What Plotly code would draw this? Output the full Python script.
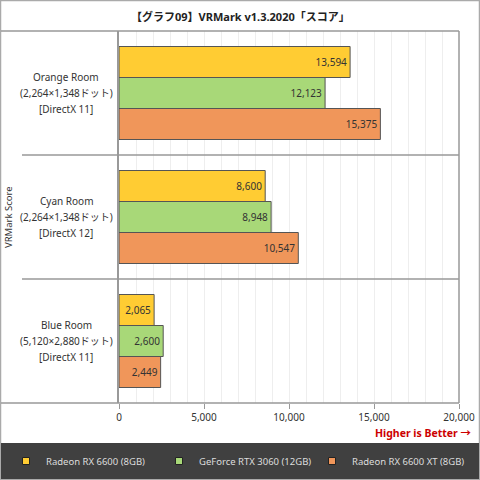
import plotly.graph_objects as go

# scores
rooms = ["Orange Room", "Cyan Room", "Blue Room"]
room_lines = [
    ["Orange Room", "(2,264×1,348ドット)", "[DirectX 11]"],
    ["Cyan Room", "(2,264×1,348ドット)", "[DirectX 12]"],
    ["Blue Room", "(5,120×2,880ドット)", "[DirectX 11]"],
]
cards = ["Radeon RX 6600 (8GB)", "GeForce RTX 3060 (12GB)", "Radeon RX 6600 XT (8GB)"]
rx6600 = [13594, 8600, 2065]
rtx3060 = [12123, 8948, 2600]
rx6600xt = [15375, 10547, 2449]
x_ticks = [0, 5000, 10000, 15000, 20000]

colors = ["#FFCC33", "#A8D878", "#F0965A"]
FONT = "Noto Sans, Noto Sans CJK JP, sans-serif"

W, H = 480, 480
L, R, T, B = 119, 21, 31, 77
pw, ph = W - L - R, H - T - B


def px(x):
    return (x - L) / pw


def py(y):
    return (H - B - y) / ph


fig = go.Figure()
for name, vals, c in zip(cards, [rx6600, rtx3060, rx6600xt], colors):
    fig.add_trace(go.Bar(
        y=rooms, x=vals, name=name, orientation="h",
        marker=dict(color=c, line=dict(color="#555555", width=1)),
        texttemplate="%{x:,}", textposition="inside", insidetextanchor="end",
        textfont=dict(color="#333333", size=10, family=FONT),
        showlegend=False, hoverinfo="x+name",
    ))
    # small square legend markers
    fig.add_trace(go.Scatter(
        x=[None], y=[None], mode="markers", name=name,
        marker=dict(symbol="square", size=7, color=c, line=dict(color="#222222", width=1)),
    ))

shapes = [
    # outer frame
    dict(type="rect", xref="paper", yref="paper", x0=px(0.5), x1=px(479.5), y0=py(479.5), y1=py(0.5),
         line=dict(color="#aaaaaa", width=1.5), layer="below"),
    # dark legend band
    dict(type="rect", xref="paper", yref="paper", x0=px(1), x1=px(479), y0=py(479), y1=py(443),
         fillcolor="#404040", line=dict(width=0), layer="below"),
    # top and bottom lines of the plot frame
    dict(type="line", xref="paper", yref="paper", x0=px(1), x1=1, y0=1, y1=1,
         line=dict(color="#999999", width=1.5)),
    dict(type="line", xref="paper", yref="paper", x0=px(1), x1=1, y0=0, y1=0,
         line=dict(color="#999999", width=1.5)),
    dict(type="line", xref="paper", yref="paper", x0=1, x1=1, y0=0, y1=1,
         line=dict(color="#999999", width=1.5)),
]
for sep in [0.5, 1.5]:
    shapes.append(dict(type="line", xref="paper", yref="y", x0=px(22), x1=1, y0=sep, y1=sep,
                       line=dict(color="#999999", width=1.5)))

annotations = [
    dict(text="<b>【グラフ09】VRMark v1.3.2020「スコア」</b>", xref="paper", yref="paper",
         x=px(240), y=py(16), xanchor="center", yanchor="middle", showarrow=False,
         font=dict(size=11, color="#222222", family=FONT)),
    dict(text="VRMark Score", xref="paper", yref="paper", x=px(8), y=0.5, textangle=-90,
         xanchor="center", yanchor="middle", showarrow=False,
         font=dict(size=9.5, color="#333333", family=FONT)),
    dict(text="<b>Higher is Better →</b>", xref="paper", yref="paper", x=px(474), y=py(433),
         xanchor="right", yanchor="middle", showarrow=False,
         font=dict(size=10.5, color="#CC0000", family=FONT)),
]
# three-line category labels, 16px apart, centred left of the axis
for room, lines in zip(rooms, room_lines):
    for i, line in enumerate(lines):
        annotations.append(dict(text=line, xref="paper", yref="y", x=px(66), y=room,
                                xanchor="center", yanchor="middle",
                                yshift=16 * (1 - i), showarrow=False,
                                font=dict(size=10, color="#333333", family=FONT)))

fig.update_layout(
    width=W, height=H,
    margin=dict(l=L, r=R, t=T, b=B, autoexpand=False),
    paper_bgcolor="white", plot_bgcolor="white",
    barmode="group", bargap=0.25, bargroupgap=0,
    font=dict(family=FONT, size=10, color="#333333"),
    shapes=shapes, annotations=annotations,
    legend=dict(orientation="h", x=px(6), y=py(461), xanchor="left", yanchor="middle",
                bgcolor="rgba(0,0,0,0)", font=dict(color="#dddddd", size=9.5, family=FONT),
                entrywidth=108, itemwidth=30, tracegroupgap=0),
)
fig.update_xaxes(
    range=[0, 20000], tickvals=x_ticks, tickformat=",", showgrid=True, gridcolor="#eeeeee",
    minor=dict(dtick=1000, showgrid=True, gridcolor="#eeeeee"),
    ticks="outside", ticklen=5, tickcolor="#999999", zeroline=False, showline=False,
    tickfont=dict(size=10, color="#333333"),
)
fig.update_yaxes(
    autorange="reversed", showticklabels=False, showgrid=False, zeroline=False,
    showline=True, linecolor="#999999", linewidth=1.5,
)

# drop the default page margin so the 480x480 figure sits at the window's corner
fig.write_html("out.html", config={"displayModeBar": False},
               post_script="document.body.style.margin='0';")
